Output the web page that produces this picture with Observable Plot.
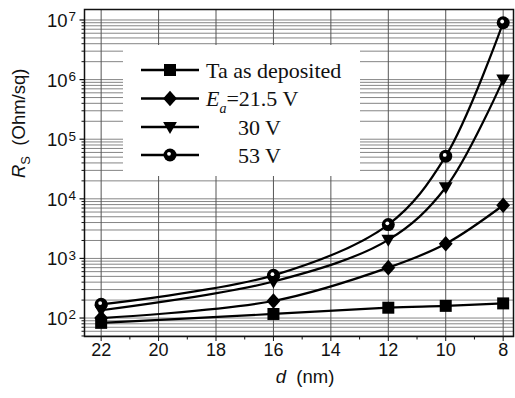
<!DOCTYPE html>
<html>
<head>
<meta charset="utf-8">
<script src="https://cdn.jsdelivr.net/npm/d3@7"></script>
<script src="https://cdn.jsdelivr.net/npm/@observablehq/plot@0.6"></script>
<style>
  html, body { margin: 0; padding: 0; background: #fff; }
  #wrap { position: relative; width: 515px; height: 398px; }
  #legend { position: absolute; left: 123px; top: 45px; width: 237px; height: 131px; background: #fff; }
</style>
</head>
<body>
<div id="wrap"><div id="legend"></div></div>
<script>
// ---- data ----
const thickness = [22, 16, 12, 10, 8];               // d (nm)
const taAsDeposited = [83, 117, 149, 160, 176];      // Ohm/sq
const ea21_5V = [100, 193, 700, 1760, 7800];
const ea30V = [135, 410, 2050, 15500, 1.0e6];
const ea53V = [170, 520, 3700, 52000, 9.0e6];
const seriesNames = ["Ta as deposited", "21.5 V", "30 V", "53 V"];
const xTicks = [22, 20, 18, 16, 14, 12, 10, 8];
const xMinorTicks = [21, 19, 17, 15, 13, 11, 9];
const yExponents = [2, 3, 4, 5, 6, 7];

// ---- derived tables ----
const seriesValues = [taAsDeposited, ea21_5V, ea30V, ea53V];
const rows = [];
seriesValues.forEach((vals, i) => vals.forEach((v, j) => rows.push({series: seriesNames[i], d: thickness[j], rs: v})));
const bySeries = name => rows.filter(r => r.series === name);
const yDecades = yExponents.map(e => Math.pow(10, e));
const yDomain = [49, 1.5e7];
const yMinor = [];
for (let e = 1; e <= 7; e++) for (let m = 2; m <= 9; m++) {
  const v = m * Math.pow(10, e);
  if (v >= yDomain[0] && v <= yDomain[1]) yMinor.push(v);
}
const yGrid = yDecades.concat(yMinor);

// ---- custom symbols ----
const rad = size => Math.sqrt(size / Math.PI);
const sqSym = {draw(c, s) { const r = rad(s); c.rect(-r, -r, 2 * r, 2 * r); }};
const diaSym = {draw(c, s) { const r = rad(s); c.moveTo(0, -r * 1.3); c.lineTo(r * 1.15, 0); c.lineTo(0, r * 1.3); c.lineTo(-r * 1.15, 0); c.closePath(); }};
const triSym = {draw(c, s) { const r = rad(s); c.moveTo(-r * 1.15, -r * 0.85); c.lineTo(r * 1.15, -r * 0.85); c.lineTo(0, r * 1.15); c.closePath(); }};
const hTick = {draw(c, s) { const r = rad(s); c.moveTo(-r, 0); c.lineTo(0, 0); }};
const vTick = {draw(c, s) { const r = rad(s); c.moveTo(0, 0); c.lineTo(0, r); }};

const plot = Plot.plot({
  width: 515,
  height: 398,
  marginLeft: 84,
  marginRight: 2,
  marginTop: 9,
  marginBottom: 62,
  style: {fontFamily: "'Liberation Sans', Arial, sans-serif", fontSize: "18px", color: "#111", background: "white"},
  x: {domain: [22.58, 7.64], ticks: xTicks, tickSize: 5, tickPadding: 2, tickFormat: d => String(d), label: null},
  y: {type: "log", domain: yDomain, axis: null},
  marks: [
    Plot.ruleY(yGrid, {stroke: "#858585", strokeWidth: 1}),
    Plot.ruleX(xTicks, {stroke: "#555", strokeWidth: 1}),
    Plot.frame({stroke: "#111", strokeWidth: 1.5}),
    // y ticks
    Plot.dot(yDecades, {y: d => d, frameAnchor: "left", symbol: hTick, r: 5, stroke: "#111", strokeWidth: 1.2, fill: "none"}),
    Plot.dot(yMinor, {y: d => d, frameAnchor: "left", symbol: hTick, r: 3, stroke: "#111", strokeWidth: 1, fill: "none"}),
    // x minor ticks
    Plot.dot(xMinorTicks, {x: d => d, frameAnchor: "bottom", symbol: vTick, r: 3, stroke: "#111", strokeWidth: 1, fill: "none"}),
    // y tick labels 10^n
    Plot.text(yExponents, {y: e => Math.pow(10, e), text: () => "10", frameAnchor: "left", textAnchor: "end", dx: -17, dy: 1, fontSize: 18.5, fill: "#111"}),
    Plot.text(yExponents, {y: e => Math.pow(10, e), text: e => String(e), frameAnchor: "left", textAnchor: "start", dx: -16, dy: -3, fontSize: 13.5, fill: "#111"}),
    // axis titles
    Plot.text(["R_S (Ohm/sq)"], {frameAnchor: "left", rotate: -90, dx: -65.5, dy: 5, fontSize: 18.5, fill: "#111"}),
    Plot.text(["d (nm)"], {frameAnchor: "bottom", dx: 6, dy: 46, fontSize: 18.5, fill: "#111"}),
    // curves
    Plot.line(rows, {x: "d", y: "rs", z: "series", curve: "catmull-rom", stroke: "#000", strokeWidth: 2.2}),
    // markers
    Plot.dot(bySeries(seriesNames[0]), {x: "d", y: "rs", symbol: sqSym, r: 6, fill: "#000"}),
    Plot.dot(bySeries(seriesNames[1]), {x: "d", y: "rs", symbol: diaSym, r: 6, fill: "#000"}),
    Plot.dot(bySeries(seriesNames[2]), {x: "d", y: "rs", symbol: triSym, r: 6, fill: "#000"}),
    Plot.dot(bySeries(seriesNames[3]), {x: "d", y: "rs", r: 6.5, fill: "#000"}),
    Plot.dot(bySeries(seriesNames[3]), {x: "d", y: "rs", r: 1.9, fill: "#fff", dx: -1, dy: -1.2})
  ]
});

// rich text for axis titles
d3.select(plot).selectAll("text").each(function() {
  const t = d3.select(this);
  const s = this.textContent;
  if (s === "R_S (Ohm/sq)") {
    t.text(null);
    t.append("tspan").attr("font-style", "italic").text("R");
    t.append("tspan").attr("font-size", 13).attr("dy", 5).text("S");
    t.append("tspan").attr("dy", -5).text("\u00a0\u00a0(Ohm/sq)");
  } else if (s === "d (nm)") {
    t.text(null);
    t.append("tspan").attr("font-style", "italic").text("d");
    t.append("tspan").text("\u00a0\u00a0(nm)");
  }
});

const wrap = document.getElementById("wrap");
wrap.insertBefore(plot, wrap.firstChild);

// legend
const leg = d3.select("#legend").append("svg").attr("width", 237).attr("height", 131)
  .style("font-family", "'Liberation Serif', 'Times New Roman', serif").style("font-size", "22px");
const legSyms = [sqSym, diaSym, triSym, null];
const rowY = [25, 53.5, 82, 110];
seriesNames.forEach((name, i) => {
  const g = leg.append("g").attr("transform", `translate(0,${rowY[i]})`);
  g.append("line").attr("x1", 18).attr("x2", 76).attr("y1", 0).attr("y2", 0).attr("stroke", "#000").attr("stroke-width", 2.5);
  if (legSyms[i]) {
    g.append("path").attr("transform", "translate(47,0)").attr("d", d3.symbol(legSyms[i], 36 * Math.PI)()).attr("fill", "#000");
  } else {
    g.append("circle").attr("cx", 47).attr("cy", 0).attr("r", 6.5).attr("fill", "#000");
    g.append("circle").attr("cx", 46).attr("cy", -1.2).attr("r", 1.9).attr("fill", "#fff");
  }
  const t = g.append("text").attr("y", 0).attr("dy", "0.35em").attr("fill", "#111");
  if (i === 0) {
    t.attr("x", 83).text(name);
  } else if (i === 1) {
    t.attr("x", 83);
    t.append("tspan").attr("font-style", "italic").text("E");
    t.append("tspan").attr("font-style", "italic").attr("font-size", 14).attr("dy", 7).text("a");
    t.append("tspan").attr("dy", -7).text("=" + name);
  } else {
    t.attr("x", 115).text(name);
  }
});
</script>
</body>
</html>
